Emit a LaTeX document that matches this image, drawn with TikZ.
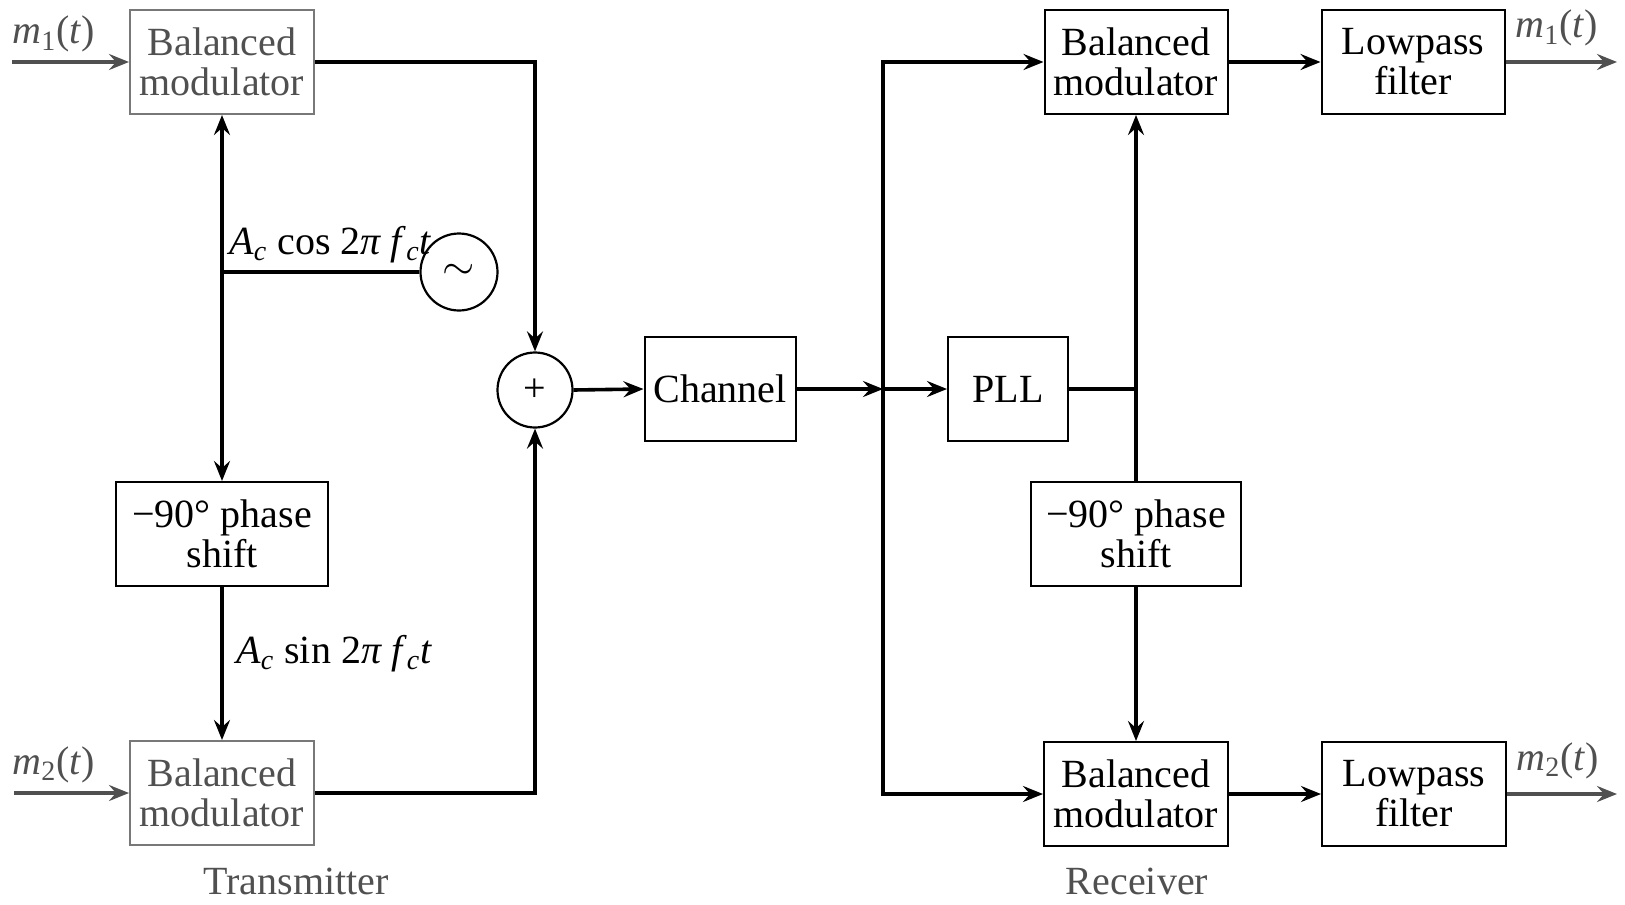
\documentclass[tikz,border=0pt]{standalone}
\usepackage{fontspec}
\setmainfont{Liberation Serif}
\usetikzlibrary{arrows.meta}
% message signal m_k(t)
\newcommand{\msg}[1]{\textit{m}\textsubscript{#1}(\textit{t})}
\definecolor{faint}{RGB}{120,120,120}
\definecolor{inkgray}{RGB}{80,80,80}
\begin{document}
\begin{tikzpicture}[x=0.5pt,y=-0.5pt,
  every node/.style={font=\fontsize{20}{20}\selectfont},
  blk/.style={draw, line width=1pt, minimum height=52pt, align=center, inner sep=0pt},
  fadedblk/.style={blk, draw=faint, text=inkgray},
  wire/.style={line width=1.8pt},
  arr/.style={wire, -{Stealth[length=10pt,width=8pt,inset=3.5pt]}},
  feed/.style={arr, draw=inkgray},
  ring/.style={circle, draw, line width=1.1pt, inner sep=0pt},
  lbl/.style={anchor=base west, inner sep=0pt},
  sectlabel/.style={anchor=base, inner sep=0pt, text=inkgray}]
\useasboundingbox (0,0) rectangle (1625,904);

% ---------------- transmitter ----------------
\node[fadedblk, minimum width=92pt] (tbm1) at (222,62) {Balanced\\modulator};
\node[blk, minimum width=106pt] (tph) at (222,534) {−90° phase\\shift};
\node[fadedblk, minimum width=92pt] (tbm2) at (222,793) {Balanced\\modulator};
\node[ring, minimum size=38.5pt, font=\fontsize{22}{22}\selectfont] (osc) at (459,272) {$\sim$};
\node[ring, minimum size=37.5pt, font=\fontsize{20}{20}\selectfont] (sum) at (535,390) {+};

\coordinate (in1) at (12,62);
\coordinate (in2) at (14,793);
\node[lbl, text=inkgray] (lm1) at (12,44) {\msg{1}};
\node[lbl, text=inkgray] (lm2) at (12,774) {\msg{2}};
\draw[feed] (in1) -- (tbm1.west);
\draw[feed] (in2) -- (tbm2.west);

\coordinate (tj) at (tbm1.south |- osc.west);
\draw[wire] (osc.west) -- (tj);
\draw[arr] (tj) -- (tbm1.south);
\draw[arr] (tj) -- (tph.north);
\draw[arr] (tph.south) -- (tbm2.north);
\node[lbl] (lcos) at (229,254) {\textit{A}\textsubscript{\textit{c}} cos 2\textit{π f}\textsubscript{\textit{c}}\textit{t}};
\node[lbl] (lsin) at (236,663) {\textit{A}\textsubscript{\textit{c}} sin 2\textit{π f}\textsubscript{\textit{c}}\textit{t}};

\draw[arr] (tbm1.east) -| (sum.north);
\draw[arr] (tbm2.east) -| (sum.south);

\node[sectlabel] (ttx) at (296,894) {Transmitter};

% ---------------- channel ----------------
\node[blk, minimum width=75.5pt] (chan) at (720,389) {Channel};
\draw[arr] (sum.east) -- (chan.west);

% ---------------- receiver ----------------
\node[blk, minimum width=60pt] (pll) at (1008,389) {PLL};
\node[blk, minimum width=91.5pt] (rbm1) at (1136,62) {Balanced\\modulator};
\node[blk, minimum width=91.5pt] (rlp1) at (1413,62) {Lowpass\\filter};
\node[blk, minimum width=105pt] (rph) at (1136,534) {−90° phase\\shift};
\node[blk, minimum width=92pt] (rbm2) at (1136,794) {Balanced\\modulator};
\node[blk, minimum width=92pt] (rlp2) at (1414,794) {Lowpass\\filter};

\coordinate (bus) at (883,389);
\draw[arr] (chan.east) -- (bus);
\draw[arr] (bus) -- (pll.west);
\draw[arr] (bus) |- (rbm1.west);
\draw[arr] (bus) |- (rbm2.west);

\coordinate (pj) at (rbm1.south |- pll.east);
\draw[wire] (pll.east) -- (pj);
\draw[arr] (pj) -- (rbm1.south);
\draw[wire] (pj) -- (rph.north);
\draw[arr] (rph.south) -- (rbm2.north);

\draw[arr] (rbm1.east) -- (rlp1.west);
\draw[arr] (rbm2.east) -- (rlp2.west);

\coordinate (out1) at (1617,62);
\coordinate (out2) at (1617,794);
\draw[feed] (rlp1.east) -- (out1);
\draw[feed] (rlp2.east) -- (out2);
\node[lbl, text=inkgray] (lo1) at (1515,38) {\msg{1}};
\node[lbl, text=inkgray] (lo2) at (1516,770) {\msg{2}};

\node[sectlabel] (trx) at (1137,894) {Receiver};
\end{tikzpicture}
\end{document}
